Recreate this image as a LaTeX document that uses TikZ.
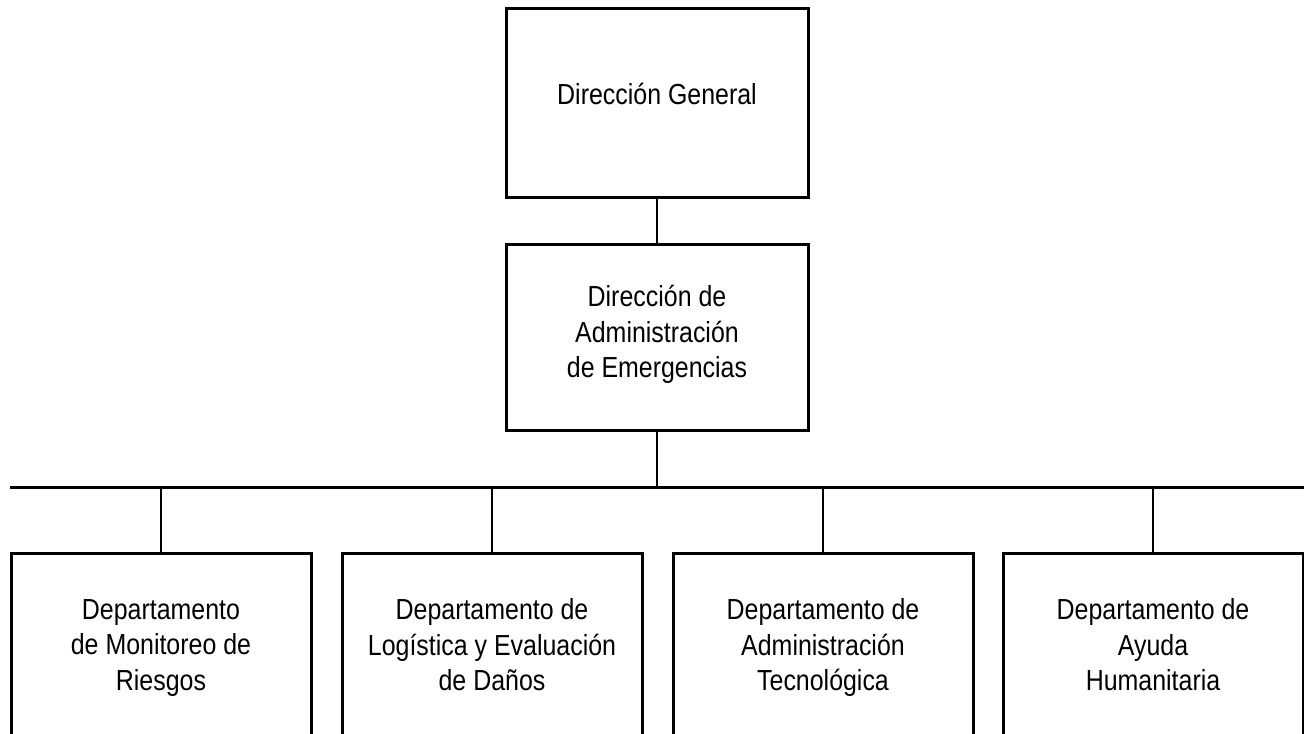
\documentclass[tikz,border=0pt]{standalone}
\usepackage{fontspec}
\setmainfont[FakeStretch=0.86]{Liberation Sans}
\begin{document}
\begin{tikzpicture}[x=.5pt, y=-.5pt,
    caja/.style={draw, line width=1.5pt, align=center, inner sep=0pt,
        font={\fontsize{14.5}{17.75}\selectfont},
        execute at begin node=\strut, execute at end node=\strut},
    dep/.style={caja, minimum width=150pt, minimum height=97pt},
    enlace/.style={line width=1pt}]
    \useasboundingbox (0,0) rectangle (1304,733);
    \node[caja, minimum width=151pt, minimum height=94pt, text depth=11.4pt] (dg) at (657,103) {Dirección General};
    \node[caja, minimum width=151pt, minimum height=93pt] (dae) at (657,337)
        {Dirección de\\Administración\\de Emergencias};
    \coordinate (barL) at (10,487);
    \coordinate (barR) at (1310,487);
    \node[dep] (dep1) at (161,650) {Departamento\\de Monitoreo de\\Riesgos};
    \node[dep] (dep2) at (492,650) {Departamento de\\Logística y Evaluación\\de Daños};
    \node[dep] (dep3) at (823,650) {Departamento de\\Administración\\Tecnológica};
    \node[dep] (dep4) at (1153,650) {Departamento de\\Ayuda\\Humanitaria};
    \draw[enlace] (dg.south)--(dae.north);
    \draw[enlace] (dae.south)--(dae.south |- barL);
    \draw[line width=1.5pt] (barL)--(barR);
    \foreach \d in {dep1,dep2,dep3,dep4}
        \draw[enlace] (\d.north |- barL)--(\d.north);
\end{tikzpicture}
\end{document}
